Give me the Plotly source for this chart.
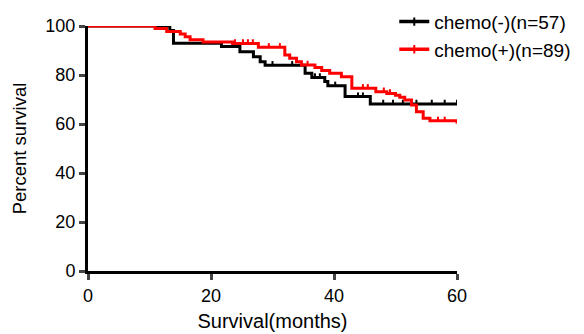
import numpy as np
import plotly.graph_objects as go

# Kaplan-Meier step data (months, percent survival)
black_t = [0, 13.3, 13.9, 21.7, 24.7, 26.9, 28.0, 28.8, 35.3, 36.4, 38.5, 39.0, 41.8, 45.9]
black_s = [100, 98.2, 93.0, 91.6, 89.5, 87.5, 85.4, 84.0, 80.7, 79.0, 77.3, 75.6, 71.2, 68.2]
black_cens = [30.0, 33.2, 36.9, 37.7, 40.2, 43.9, 44.7, 48.0, 49.6, 51.2, 53.4, 55.9, 58.0, 60.0]

red_t = [0, 10.9, 12.8, 15.0, 15.8, 16.6, 18.7, 23.5, 27.7, 32.0, 32.8, 33.9, 34.7, 36.9,
         38.0, 39.3, 41.2, 42.9, 46.8, 48.6, 50.0, 50.7, 51.5, 52.6, 53.4, 54.5, 55.6, 60.0]
red_s = [100, 99.0, 97.8, 96.7, 95.6, 94.4, 93.5, 92.9, 91.3, 88.2, 86.8, 85.4, 84.1, 83.1,
         81.8, 80.7, 79.3, 74.6, 73.2, 72.5, 71.7, 70.9, 69.8, 67.8, 65.0, 62.3, 61.3, 60.2]
red_cens = [23.9, 25.2, 26.0, 26.8, 29.4, 31.2, 35.7, 44.7, 45.5, 48.1, 49.1, 56.9, 58.0]

x_ticks = [0, 20, 40, 60]
y_ticks = [0, 20, 40, 60, 80, 100]

series = [
    ("chemo(-)(n=57)", black_t, black_s, black_cens, "#000000"),
    ("chemo(+)(n=89)", red_t, red_s, red_cens, "#ff0000"),
]

FONT = "Arial, Liberation Sans, sans-serif"
fig = go.Figure()

for name, t, s, cens, col in series:
    xs = list(t) + [60]
    ys = list(s) + [s[-1]]
    fig.add_trace(go.Scatter(x=xs, y=ys, mode="lines", line=dict(color=col, width=3, shape="hv"),
                             showlegend=False, cliponaxis=False, hoverinfo="skip"))
    # censor ticks
    tt = np.array(t)
    ss = np.array(s)
    cx, cy = [], []
    for c in cens:
        idx = np.searchsorted(tt, c, side="right") - 1
        v = ss[idx]
        cx += [c, c, None]
        cy += [v, v + 1.7, None]
    fig.add_trace(go.Scatter(x=cx, y=cy, mode="lines", line=dict(color=col, width=2),
                             showlegend=False, cliponaxis=False, hoverinfo="skip"))
    fig.add_trace(go.Scatter(x=[None], y=[None], mode="lines+markers", name=name,
                             line=dict(color=col, width=3.5),
                             marker=dict(symbol="line-ns", size=6, line=dict(color=col, width=2))))

fig.update_layout(
    width=584, height=334,
    margin=dict(l=88, r=127, t=26, b=63, autoexpand=False),
    paper_bgcolor="white", plot_bgcolor="white",
    font=dict(family=FONT, size=18, color="black"),
    legend=dict(x=0.83, y=1.095, xanchor="left", yanchor="top", bgcolor="rgba(0,0,0,0)",
                font=dict(size=19), tracegroupgap=0, itemwidth=30),
    xaxis=dict(range=[0, 60], tickvals=x_ticks, ticks="outside", ticklen=6, tickwidth=2.5,
               showline=True, linewidth=3, linecolor="black", showgrid=False, zeroline=False,
               automargin=False,
               title=dict(text="Survival(months)", font=dict(size=20), standoff=10)),
    yaxis=dict(range=[0, 100], tickvals=y_ticks, ticks="outside", ticklen=6, tickwidth=2.5,
               showline=True, linewidth=3, linecolor="black", showgrid=False, zeroline=False,
               automargin=False,
               title=dict(text="Percent survival", font=dict(size=18.5), standoff=14)),
)

fig.write_html("out.html", config={"displayModeBar": False},
               post_script="document.body.style.margin='0';")
